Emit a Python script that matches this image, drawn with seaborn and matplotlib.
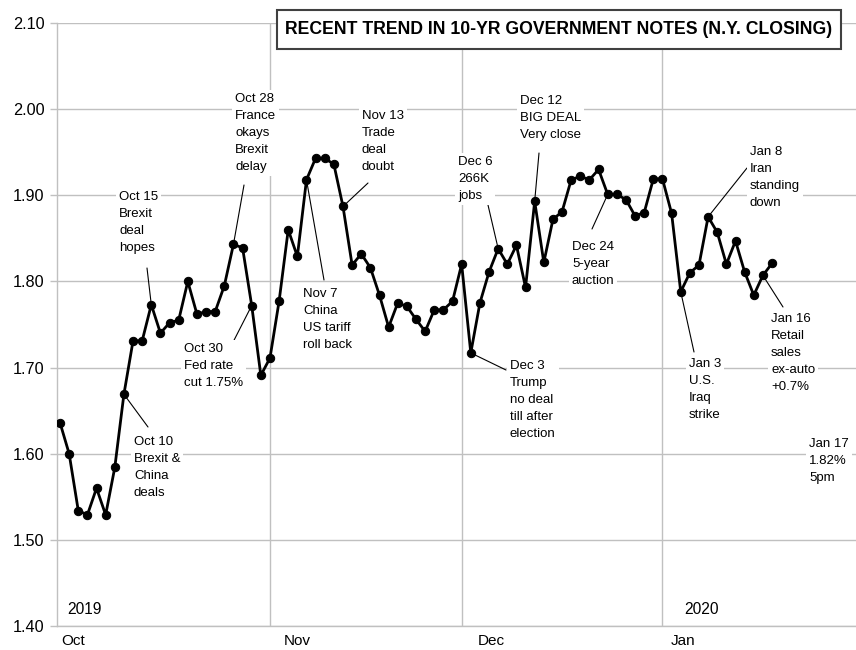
# coding: utf-8
"""
Recent trend in 10-yr government notes (N.Y. closing), Oct 2019 - Jan 2020
"""
import matplotlib
matplotlib.use('Agg')
from matplotlib import pyplot as plt
from matplotlib.patches import Rectangle
import pandas as pd
import seaborn as sns


# One closing value per weekday, Oct 1 2019 -> Jan 17 2020
START, END = '2019-10-01', '2020-01-17'
YIELDS_OCT = [1.636, 1.600, 1.534, 1.529, 1.560, 1.529, 1.584, 1.669, 1.731, 1.731,
              1.773, 1.740, 1.752, 1.755, 1.800, 1.762, 1.765, 1.765, 1.795, 1.843,
              1.839, 1.772, 1.691]
YIELDS_NOV = [1.711, 1.777, 1.860, 1.829, 1.918, 1.943, 1.943, 1.936, 1.887, 1.819,
              1.832, 1.816, 1.784, 1.747, 1.775, 1.771, 1.756, 1.742, 1.767, 1.767,
              1.777]
YIELDS_DEC = [1.820, 1.717, 1.775, 1.811, 1.838, 1.820, 1.842, 1.793, 1.893, 1.822,
              1.872, 1.881, 1.918, 1.922, 1.918, 1.930, 1.901, 1.901, 1.895, 1.876,
              1.880, 1.919]
YIELDS_JAN = [1.919, 1.879, 1.788, 1.810, 1.819, 1.875, 1.857, 1.820, 1.847, 1.811,
              1.784, 1.807, 1.821]

MONTH_LABELS = ['Oct', 'Nov', 'Dec', 'Jan']
MONTH_LABEL_POS = [1.4, 26.0, 47.2, 68.3]
YEAR_LABELS = ['2019', '2020']
TITLE = 'RECENT TREND IN 10-YR GOVERNMENT NOTES (N.Y. CLOSING)'

# (date pointed at, text, text top-left in figure px from top, leader end or None)
NOTES = [
    ('2019-10-10', 'Oct 10\nBrexit &\nChina\ndeals', (134, 436), (148, 427)),
    ('2019-10-15', 'Oct 15\nBrexit\ndeal\nhopes', (119, 191), (147, 268)),
    ('2019-10-28', 'Oct 28\nFrance\nokays\nBrexit\ndelay', (235, 93), (244, 185)),
    ('2019-10-30', 'Oct 30\nFed rate\ncut 1.75%', (184, 343), (228, 352)),
    ('2019-11-07', 'Nov 7\nChina\nUS tariff\nroll back', (303, 288), (324, 280)),
    ('2019-11-13', 'Nov 13\nTrade\ndeal\ndoubt', (362, 110), (368, 183)),
    ('2019-12-03', 'Dec 3\nTrump\nno deal\ntill after\nelection', (510, 360), (506, 370)),
    ('2019-12-06', 'Dec 6\n266K\njobs', (458, 156), (488, 205)),
    ('2019-12-12', 'Dec 12\nBIG DEAL\nVery close', (520, 95), (539, 153)),
    ('2019-12-24', 'Dec 24\n5-year\nauction', (572, 241), (592, 229)),
    ('2020-01-03', 'Jan 3\nU.S.\nIraq\nstrike', (689, 358), (694, 352)),
    ('2020-01-08', 'Jan 8\nIran\nstanding\ndown', (750, 146), (747, 168)),
    ('2020-01-16', 'Jan 16\nRetail\nsales\nex-auto\n+0.7%', (771, 313), (783, 307)),
    ('2020-01-17', 'Jan 17\n1.82%\n5pm', (809, 438), None),
]

W, H = 856, 650
GRID_COLOR = '#c0c0c0'

sns.set_theme(style='white')
plt.rcParams['font.family'] = ['Liberation Sans', 'DejaVu Sans']
plt.rcParams['text.color'] = 'black'
plt.rcParams['xtick.labelcolor'] = 'black'
plt.rcParams['ytick.labelcolor'] = 'black'

# Build the dataframe
dates = pd.bdate_range(START, END)
df = pd.DataFrame({'date': dates,
                   'value': YIELDS_OCT + YIELDS_NOV + YIELDS_DEC + YIELDS_JAN})
df['pos'] = range(len(df))
month_start = df.groupby(df['date'].dt.to_period('M'))['pos'].min().tolist()

fig = plt.figure(figsize=(W / 100, H / 100), dpi=100)
ax = fig.add_axes([57 / W, 24 / H, (W - 57) / W, 603 / H])

sns.lineplot(data=df, x='pos', y='value', ax=ax, color='black', linewidth=2.0,
             marker='o', markersize=6, markeredgecolor='black', zorder=4)

ax.set_xlim(-0.33, 87.2)
ax.set_ylim(1.40, 2.10)
ax.set_yticks([1.40 + 0.1 * i for i in range(8)])
ax.set_yticklabels(['{:.2f}'.format(1.40 + 0.1 * i) for i in range(8)], fontsize=11.7)
ax.set_xticks(MONTH_LABEL_POS)
ax.set_xticklabels(MONTH_LABELS, fontsize=11)
ax.set_xticks(month_start[1:], minor=True)
ax.tick_params(axis='x', which='both', length=0, pad=5.5)
ax.tick_params(axis='y', length=5, width=1, color=GRID_COLOR, pad=4, left=True)
ax.grid(axis='y', which='major', color=GRID_COLOR, linewidth=1)
ax.grid(axis='x', which='minor', color=GRID_COLOR, linewidth=1)
ax.grid(axis='x', which='major', visible=False)
ax.set_xlabel('')
ax.set_ylabel('')
for side in ['top', 'right']:
    ax.spines[side].set_visible(False)
for side in ['left', 'bottom']:
    ax.spines[side].set_color(GRID_COLOR)
    ax.spines[side].set_linewidth(1)

# Years
ax.text(67, H - 617, YEAR_LABELS[0], transform=None, fontsize=11.2, va='bottom')
ax.text(684, H - 617, YEAR_LABELS[1], transform=None, fontsize=11.2, va='bottom')

# Annotations
for day, text, (tx, ty), leader in NOTES:
    row = df.loc[df['date'] == pd.Timestamp(day)].iloc[0]
    if leader is not None:
        ax.annotate('', xy=(row['pos'], row['value']), xycoords='data',
                    xytext=(leader[0], H - leader[1]), textcoords='figure pixels',
                    arrowprops=dict(arrowstyle='-', color='black', lw=0.8,
                                    shrinkA=0, shrinkB=0), zorder=3)
    ax.annotate(text, xy=(tx, H - ty), xycoords='figure pixels', ha='left', va='top',
                fontsize=9.5, linespacing=1.55, zorder=5,
                bbox=dict(facecolor='white', edgecolor='none', pad=2))

# Title box
fig.add_artist(Rectangle((277 / W, 1 - 49 / H), 564 / W, 39 / H, transform=fig.transFigure,
                         facecolor='white', edgecolor='#404040', linewidth=1.5, zorder=6))
fig.text(559 / W, 1 - 30 / H, TITLE, ha='center', va='center', fontsize=12.7,
         fontweight='bold', zorder=7)

fig.savefig('out.png', dpi=100)
plt.close()
